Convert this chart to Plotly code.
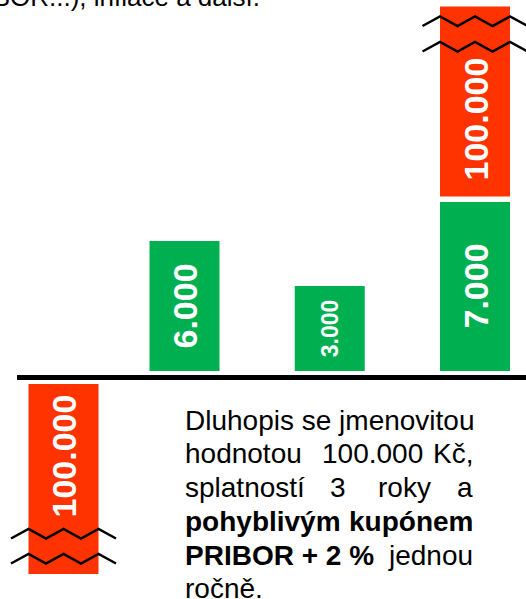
import plotly.graph_objects as go

# roky a peněžní toky dluhopisu (Kč)
roky = [0, 1, 2, 3]
kupony = [6000, 3000, 7000]
jistina = 100000
popisky_kuponu = ["6.000", "3.000", "7.000"]
popisek_jistiny = "100.000"
# schematické výšky sloupců (obrázek není v měřítku)
vysky_kuponu = [130, 85, 169]
vyska_jistiny = 190

W, H = 526, 599
ZELENA = "#00B050"
CERVENA = "#FF3300"
FONT = "Liberation Sans, Arial, sans-serif"

krok = 145.25                     # px na jeden rok
x0 = 39.25                        # px pozice roku 0
sirka = 70 / krok
posun0 = 0.167                    # rok 0 je posunut doprava
mezera = 6.5


def px(x):
    return x / W


def py(y):
    return 1 - y / H


fig = go.Figure()

# kupony
fig.add_trace(go.Bar(x=roky[1:], y=vysky_kuponu, base=mezera, width=sirka,
                     marker=dict(color=ZELENA, line=dict(width=0))))

# jistina: výdaj v roce 0, splacení v roce 3
zaklad_nahore = mezera + vysky_kuponu[-1] + 5.5
fig.add_trace(go.Bar(x=[roky[0], roky[-1]], y=[-vyska_jistiny, vyska_jistiny],
                     base=[-mezera, zaklad_nahore], width=sirka,
                     offset=[-sirka / 2 + posun0, -sirka / 2],
                     marker=dict(color=CERVENA, line=dict(width=0))))

ann = []
for r, h, t in zip(roky[1:], vysky_kuponu, popisky_kuponu):
    ann.append(dict(x=r, y=mezera + h / 2, xref="x", yref="y", text="<b>%s</b>" % t,
                    textangle=-90, showarrow=False,
                    font=dict(family=FONT, size=23 if h < 100 else 34, color="white")))

ann.append(dict(x=roky[-1], y=zaklad_nahore + vyska_jistiny / 2, yshift=-18, xref="x", yref="y",
                text="<b>%s</b>" % popisek_jistiny, textangle=-90, showarrow=False,
                font=dict(family=FONT, size=34, color="white")))
ann.append(dict(x=roky[0] + posun0, y=-mezera - vyska_jistiny / 2, yshift=23, xref="x", yref="y",
                text="<b>%s</b>" % popisek_jistiny, textangle=-90, showarrow=False,
                font=dict(family=FONT, size=34, color="white")))

# zlomy (cikcak) na červených sloupcích
shapes = []


def cikcak(xc, y_dol):
    xs = [xc + sirka * k for k in (-0.75, -0.5, -0.25, 0, 0.25, 0.5, 0.75)]
    ys = [y_dol + (9.5 if i % 2 else 0) for i in range(7)]
    path = "M " + " L ".join("%f,%f" % (a, b) for a, b in zip(xs, ys))
    return dict(type="path", path=path, xref="x", yref="y",
                line=dict(color="black", width=2.5))


vrch = zaklad_nahore + vyska_jistiny
for d in (19.5, 45):
    shapes.append(cikcak(roky[-1], vrch - d))
spod = -mezera - vyska_jistiny
for d in (10.5, 35.5):
    shapes.append(cikcak(roky[0] + posun0, spod + d))

# časová osa
shapes.append(dict(type="line", xref="paper", yref="y", x0=px(17), x1=1.02, y0=0, y1=0,
                   line=dict(color="black", width=5)))


def text(x, y, t, anchor="left", size=28):
    ann.append(dict(x=px(x), y=py(y - 0.35 * size), xref="paper", yref="paper", text=t,
                    xanchor=anchor, yanchor="middle", showarrow=False,
                    font=dict(family=FONT, size=size, color="black")))


# useknutý text nahoře
text(262, 6, "LIBOR...), inflace a další.", "right", 26)

# popis dluhopisu (zarovnáno do bloku)
L, R = 183, 475
text(L, 430, "Dluhopis se jmenovitou")
text(L, 463.5, "hodnotou")
text(372.3, 463.5, "100.000", "center")
text(R, 463.5, "Kč,", "right")
text(L, 497, "splatností")
text(337.5, 497, "3", "center")
text(404.8, 497, "roky", "center")
text(R, 497, "a", "right")
text(L, 531, "<b>pohyblivým</b>")
text(R, 531, "<b>kupónem</b>", "right")
text(L, 565, "<b>PRIBOR + 2 %</b>")
text(R, 565, "jednou", "right")
text(L, 598.5, "ročně.")

fig.update_layout(
    width=W, height=H, margin=dict(l=0, r=0, t=0, b=0),
    paper_bgcolor="white", plot_bgcolor="white",
    showlegend=False, barmode="overlay",
    xaxis=dict(visible=False, range=[-x0 / krok, (W - x0) / krok]),
    yaxis=dict(visible=False, range=[-221.5, 377.5]),
    annotations=ann, shapes=shapes,
)

fig.write_html("out.html", config={"displayModeBar": False},
               post_script="document.body.style.margin='0';")
